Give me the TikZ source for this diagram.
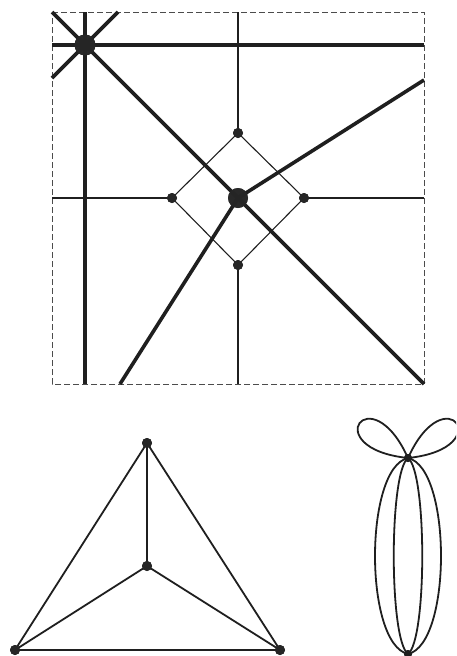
\documentclass[tikz,border=0pt]{standalone}
\begin{document}
\begin{tikzpicture}[x=1pt,y=-1pt,
  thickline/.style={line width=3.6pt,draw=black!88},
  thinline/.style={line width=1.1pt,draw=black!88},
  midline/.style={line width=1.8pt,draw=black!88},
  frame/.style={line width=1pt,draw=black!70,dash pattern=on 6pt off 3pt},
  bignode/.style={circle,fill=black!85,fill opacity=0.92,inner sep=0pt,minimum size=21pt},
  smallnode/.style={circle,fill=black!85,inner sep=0pt,minimum size=10pt},
  tinynode/.style={circle,fill=black!88,inner sep=0pt,minimum size=8pt}]
\useasboundingbox (0,0) rectangle (456,656);
\clip (0,0) rectangle (456,656);
% frame corners and border points
\coordinate (TL) at (52,12);
\coordinate (TR) at (424,12);
\coordinate (BR) at (424,384);
\coordinate (BL) at (52,384);
\draw[frame] (TL) -- (TR) -- (BR) -- (BL) -- cycle;
\coordinate (vA1) at (85,12);
\coordinate (vA2) at (85,384);
\coordinate (hA1) at (52,45);
\coordinate (hA2) at (424,45);
\coordinate (adA1) at (118,12);
\coordinate (adA2) at (52,78);
\coordinate (rC) at (424,80);
\coordinate (bC) at (120,384);
\coordinate (vt) at (238,12);
\coordinate (vb) at (238,384);
\coordinate (hl) at (52,198);
\coordinate (hr) at (424,198);
% nodes of the square part
\node[bignode] (A) at (85,45) {};
\node[bignode,minimum size=20pt] (C) at (238,198) {};
\node[smallnode] (dt) at (238,133) {};
\node[smallnode] (dl) at (172,198) {};
\node[smallnode] (dr) at (304,198) {};
\node[smallnode] (db) at (238,265) {};
% thin lines
\draw[thinline] (vt) -- (dt.center);
\draw[thinline] (db.center) -- (vb);
\draw[thinline] (hl) -- (dl.center);
\draw[thinline] (dr.center) -- (hr);
\draw[thinline] (dt.center) -- (dr.center) -- (db.center) -- (dl.center) -- cycle;
% thick lines
\draw[thickline] (vA1) -- (vA2);
\draw[thickline] (hA1) -- (hA2);
\draw[thickline] (adA1) -- (adA2);
\draw[thickline] (TL) -- (BR);
\draw[thickline] (C.center) -- (rC);
\draw[thickline] (C.center) -- (bC);
% redraw nodes on top
\node[bignode] at (A) {};
\node[bignode,minimum size=20pt] at (C) {};
\node[smallnode] at (dt) {};
\node[smallnode] at (dl) {};
\node[smallnode] at (dr) {};
\node[smallnode] at (db) {};
% triangle graph
\node[smallnode] (t1) at (147,443) {};
\node[smallnode] (t0) at (147,566) {};
\node[smallnode] (t2) at (15,650) {};
\node[smallnode] (t3) at (280,650) {};
\draw[midline] (t1.center) -- (t2.center) -- (t3.center) -- cycle;
\draw[midline] (t1.center) -- (t0.center);
\draw[midline] (t0.center) -- (t2.center);
\draw[midline] (t0.center) -- (t3.center);
\node[smallnode] at (t1) {};
\node[smallnode] at (t0) {};
\node[smallnode] at (t2) {};
\node[smallnode] at (t3) {};
% loops and multi-edges graph
\node[tinynode] (u) at (408,458) {};
\node[tinynode] (w) at (408,654) {};
\draw[midline] (u.center) .. controls +(-37.7,-83.4) and +(-91.5,-9.6) .. (u.center);
\draw[midline] (u.center) .. controls +(37.7,-83.4) and +(91.5,-9.6) .. (u.center);
\draw[midline] (u.center) .. controls +(-44,10) and +(-44,-10) .. (w.center);
\draw[midline] (u.center) .. controls +(44,10) and +(44,-10) .. (w.center);
\draw[midline] (u.center) .. controls +(-19,14) and +(-19,-14) .. (w.center);
\draw[midline] (u.center) .. controls +(19,14) and +(19,-14) .. (w.center);
\node[tinynode] at (u) {};
\node[tinynode] at (w) {};
\end{tikzpicture}
\end{document}
